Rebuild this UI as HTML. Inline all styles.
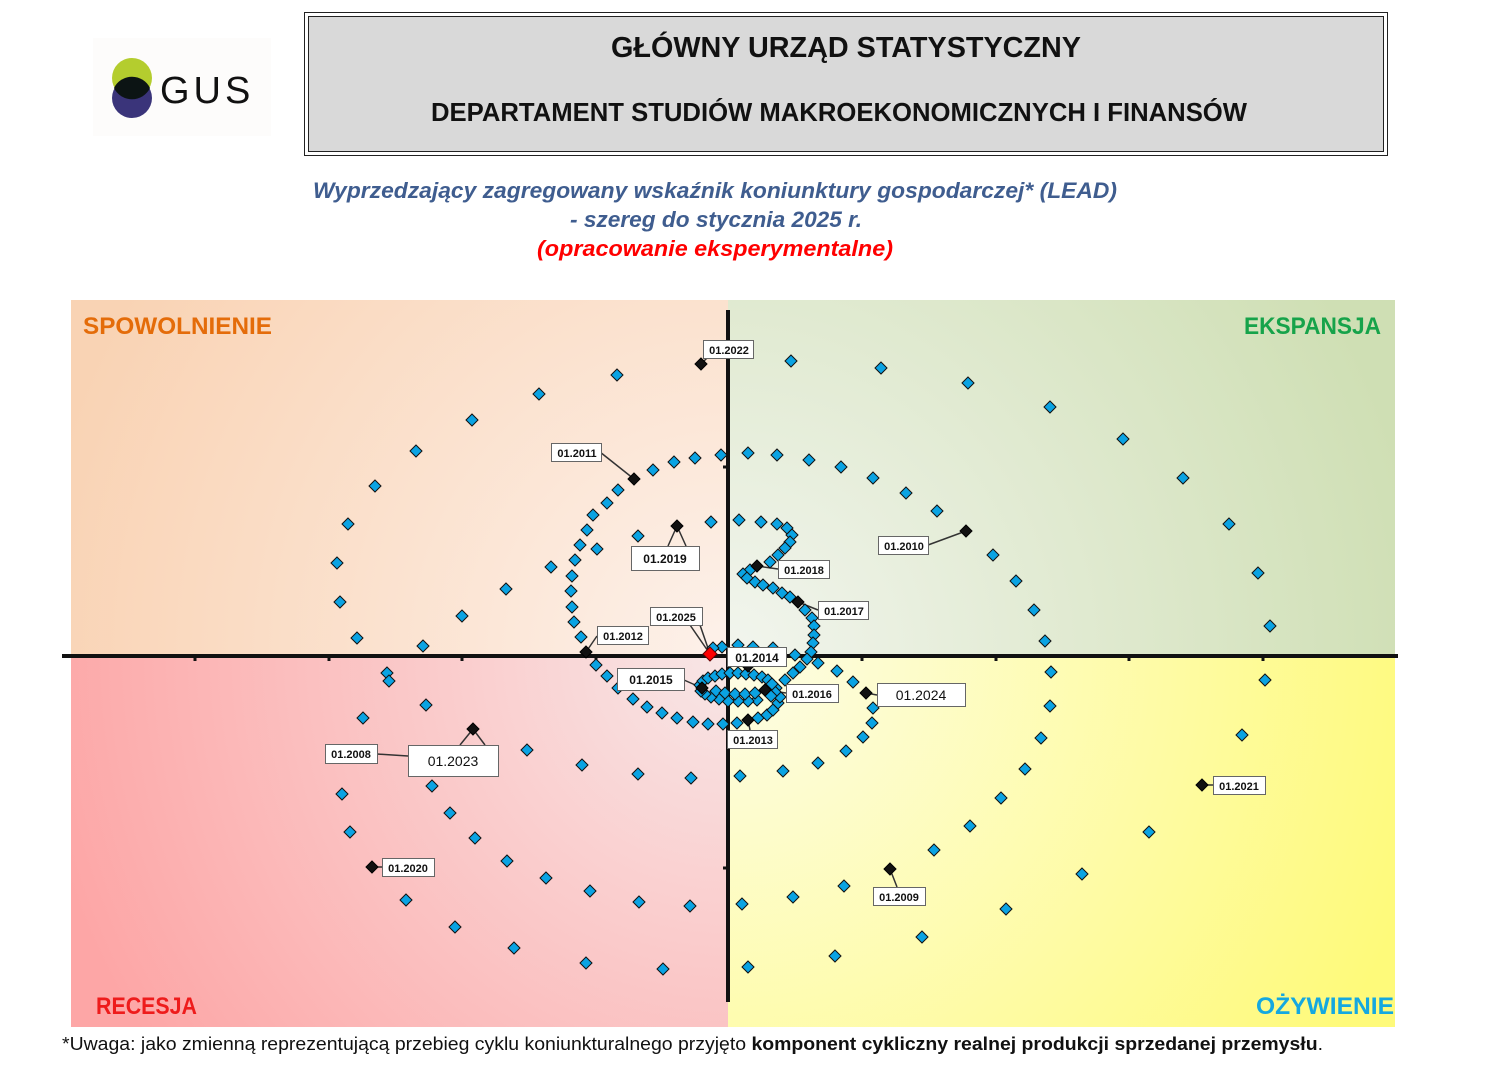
<!DOCTYPE html>
<html><head><meta charset="utf-8"><style>
html,body{margin:0;padding:0;background:#fff;}
svg{display:block;}
text{font-family:"Liberation Sans",sans-serif;}
</style></head><body>
<svg width="1505" height="1069" viewBox="0 0 1505 1069" xmlns="http://www.w3.org/2000/svg">
<defs>
<radialGradient id="gTL" cx="728" cy="656" r="700" gradientUnits="userSpaceOnUse"><stop offset="0" stop-color="#fdf1ea"/><stop offset="1" stop-color="#f9d3b4"/></radialGradient>
<radialGradient id="gTR" cx="728" cy="656" r="700" gradientUnits="userSpaceOnUse"><stop offset="0" stop-color="#f2f5ee"/><stop offset="1" stop-color="#cfdfb4"/></radialGradient>
<radialGradient id="gBL" cx="728" cy="656" r="700" gradientUnits="userSpaceOnUse"><stop offset="0" stop-color="#f8e6e6"/><stop offset="1" stop-color="#fda6a6"/></radialGradient>
<radialGradient id="gBR" cx="728" cy="656" r="720" gradientUnits="userSpaceOnUse"><stop offset="0" stop-color="#fdfde6"/><stop offset="1" stop-color="#fefa7a"/></radialGradient>
<path id="d" d="M0,-6 L6,0 L0,6 L-6,0 Z" fill="#0aa3e3" stroke="#111" stroke-width="1"/>
<path id="k" d="M0,-6 L6,0 L0,6 L-6,0 Z" fill="#111" stroke="#000" stroke-width="1"/>
</defs>

<!-- logo -->
<rect x="93" y="38" width="178" height="98" fill="#fdfcfb"/>
<circle cx="132" cy="78" r="20" fill="#b4cd2e"/>
<circle cx="132" cy="98" r="20" fill="#3a347a"/>
<path d="M114,88 A20,20 0 0 1 150,88 A20,20 0 0 1 114,88 Z" fill="#0c1414"/>
<text x="160" y="103" font-size="38" fill="#111" letter-spacing="4">GUS</text>

<!-- header box -->
<rect x="304.5" y="12.5" width="1083" height="143" fill="#fff" stroke="#222" stroke-width="1"/>
<rect x="308.5" y="16.5" width="1075" height="135" fill="#d9d9d9" stroke="#222" stroke-width="1"/>
<text x="846" y="57" font-size="29" font-weight="bold" text-anchor="middle" textLength="470" lengthAdjust="spacingAndGlyphs" fill="#111">GŁÓWNY URZĄD STATYSTYCZNY</text>
<text x="839" y="121" font-size="26" font-weight="bold" text-anchor="middle" textLength="816" lengthAdjust="spacingAndGlyphs" fill="#111">DEPARTAMENT STUDIÓW MAKROEKONOMICZNYCH I FINANSÓW</text>

<!-- subtitle -->
<g font-style="italic" font-weight="bold" font-size="22" text-anchor="middle">
<text x="715" y="198" fill="#3f5d8f" textLength="804" lengthAdjust="spacingAndGlyphs">Wyprzedzający zagregowany wskaźnik koniunktury gospodarczej* (LEAD)</text>
<text x="716" y="227" fill="#3f5d8f" textLength="292" lengthAdjust="spacingAndGlyphs">- szereg do stycznia 2025 r.</text>
<text x="715" y="256" fill="#ff0000" textLength="356" lengthAdjust="spacingAndGlyphs">(opracowanie eksperymentalne)</text>
</g>

<!-- quadrants -->
<rect x="71" y="300" width="657" height="356" fill="url(#gTL)"/>
<rect x="728" y="300" width="667" height="356" fill="url(#gTR)"/>
<rect x="71" y="656" width="657" height="371" fill="url(#gBL)"/>
<rect x="728" y="656" width="667" height="371" fill="url(#gBR)"/>
<g font-weight="bold" font-size="24">
<text x="83" y="334" fill="#e46c0a" textLength="189" lengthAdjust="spacingAndGlyphs">SPOWOLNIENIE</text>
<text x="1244" y="334" fill="#16a34a" textLength="137" lengthAdjust="spacingAndGlyphs">EKSPANSJA</text>
<text x="96" y="1014" fill="#ee1c1c" textLength="101" lengthAdjust="spacingAndGlyphs">RECESJA</text>
<text x="1256" y="1014" fill="#14a8e0" textLength="138" lengthAdjust="spacingAndGlyphs">OŻYWIENIE</text>
</g>

<!-- axes -->
<line x1="62" y1="656" x2="1398" y2="656" stroke="#111" stroke-width="4"/>
<line x1="728" y1="310" x2="728" y2="1002" stroke="#111" stroke-width="4"/>
<g stroke="#111" stroke-width="3">
<line x1="195" y1="656" x2="195" y2="661"/><line x1="329" y1="656" x2="329" y2="661"/><line x1="462" y1="656" x2="462" y2="661"/><line x1="596" y1="656" x2="596" y2="661"/><line x1="862" y1="656" x2="862" y2="661"/><line x1="996" y1="656" x2="996" y2="661"/><line x1="1129" y1="656" x2="1129" y2="661"/><line x1="1263" y1="656" x2="1263" y2="661"/>
<line x1="723" y1="467" x2="728" y2="467"/><line x1="723" y1="868" x2="728" y2="868"/>
</g>

<!-- label leader lines -->
<g stroke="#333" stroke-width="1.5" fill="none">
<path d="M701,364 L708,357"/><path d="M600,452 L634,479"/><path d="M677,526 L668,546 M677,526 L686,546"/>
<path d="M757,566 L778,569"/><path d="M966,531 L928,545"/><path d="M798,602 L818,610"/>
<path d="M710,654 L700,625 M710,654 L690,625"/><path d="M586,652 L597,636"/><path d="M748,666 L752,660"/>
<path d="M702,688 L684,680"/><path d="M765,690 L786,693"/><path d="M866,693 L877,695"/>
<path d="M748,720 L750,730"/><path d="M377,754 L408,756"/><path d="M473,729 L460,745 M473,729 L485,745"/>
<path d="M1202,785 L1213,785"/><path d="M372,867 L382,867"/><path d="M890,869 L897,887"/>
</g>

<!-- points -->
<g>
<use href="#d" x="617" y="375"/><use href="#d" x="539" y="394"/><use href="#d" x="472" y="420"/><use href="#d" x="416" y="451"/><use href="#d" x="375" y="486"/><use href="#d" x="348" y="524"/><use href="#d" x="337" y="563"/><use href="#d" x="340" y="602"/><use href="#d" x="357" y="638"/><use href="#d" x="387" y="673"/><use href="#d" x="389" y="681"/><use href="#d" x="426" y="705"/><use href="#d" x="363" y="718"/><use href="#d" x="342" y="794"/><use href="#d" x="350" y="832"/><use href="#d" x="406" y="900"/><use href="#d" x="455" y="927"/><use href="#d" x="514" y="948"/><use href="#d" x="586" y="963"/><use href="#d" x="663" y="969"/><use href="#d" x="748" y="967"/><use href="#d" x="835" y="956"/><use href="#d" x="922" y="937"/><use href="#d" x="1006" y="909"/><use href="#d" x="1082" y="874"/><use href="#d" x="1149" y="832"/><use href="#d" x="1242" y="735"/><use href="#d" x="1265" y="680"/><use href="#d" x="1270" y="626"/><use href="#d" x="1258" y="573"/><use href="#d" x="1229" y="524"/><use href="#d" x="1183" y="478"/><use href="#d" x="1123" y="439"/><use href="#d" x="1050" y="407"/><use href="#d" x="968" y="383"/><use href="#d" x="881" y="368"/><use href="#d" x="791" y="361"/>
<use href="#d" x="527" y="750"/><use href="#d" x="582" y="765"/><use href="#d" x="638" y="774"/><use href="#d" x="691" y="778"/><use href="#d" x="740" y="776"/><use href="#d" x="783" y="771"/><use href="#d" x="818" y="763"/><use href="#d" x="846" y="751"/><use href="#d" x="863" y="737"/><use href="#d" x="872" y="723"/><use href="#d" x="873" y="708"/><use href="#d" x="853" y="682"/><use href="#d" x="837" y="671"/><use href="#d" x="818" y="663"/><use href="#d" x="795" y="655"/><use href="#d" x="773" y="648"/><use href="#d" x="753" y="647"/><use href="#d" x="738" y="645"/><use href="#d" x="722" y="647"/><use href="#d" x="713" y="648"/>
<use href="#d" x="432" y="786"/><use href="#d" x="450" y="813"/><use href="#d" x="475" y="838"/><use href="#d" x="507" y="861"/><use href="#d" x="546" y="878"/><use href="#d" x="590" y="891"/><use href="#d" x="639" y="902"/><use href="#d" x="690" y="906"/><use href="#d" x="742" y="904"/><use href="#d" x="793" y="897"/><use href="#d" x="844" y="886"/><use href="#d" x="934" y="850"/><use href="#d" x="970" y="826"/><use href="#d" x="1001" y="798"/><use href="#d" x="1025" y="769"/><use href="#d" x="1041" y="738"/><use href="#d" x="1050" y="706"/><use href="#d" x="1051" y="672"/><use href="#d" x="1045" y="641"/><use href="#d" x="1034" y="610"/><use href="#d" x="1016" y="581"/><use href="#d" x="993" y="555"/><use href="#d" x="937" y="511"/><use href="#d" x="906" y="493"/><use href="#d" x="873" y="478"/><use href="#d" x="841" y="467"/><use href="#d" x="809" y="460"/><use href="#d" x="777" y="455"/><use href="#d" x="748" y="453"/><use href="#d" x="721" y="455"/><use href="#d" x="695" y="458"/><use href="#d" x="674" y="462"/><use href="#d" x="653" y="470"/>
<use href="#d" x="618" y="490"/><use href="#d" x="607" y="503"/><use href="#d" x="593" y="515"/><use href="#d" x="587" y="530"/><use href="#d" x="580" y="545"/><use href="#d" x="575" y="560"/><use href="#d" x="572" y="576"/><use href="#d" x="571" y="591"/><use href="#d" x="572" y="607"/><use href="#d" x="574" y="622"/><use href="#d" x="581" y="637"/><use href="#d" x="596" y="665"/><use href="#d" x="607" y="676"/><use href="#d" x="618" y="688"/><use href="#d" x="633" y="699"/><use href="#d" x="647" y="707"/><use href="#d" x="662" y="713"/><use href="#d" x="677" y="718"/><use href="#d" x="693" y="722"/><use href="#d" x="708" y="724"/><use href="#d" x="723" y="724"/><use href="#d" x="737" y="723"/><use href="#d" x="758" y="718"/><use href="#d" x="767" y="715"/><use href="#d" x="773" y="710"/><use href="#d" x="778" y="703"/><use href="#d" x="780" y="697"/>
<use href="#d" x="638" y="536"/><use href="#d" x="597" y="549"/><use href="#d" x="551" y="567"/><use href="#d" x="506" y="589"/><use href="#d" x="462" y="616"/><use href="#d" x="423" y="646"/><use href="#d" x="711" y="522"/><use href="#d" x="739" y="520"/><use href="#d" x="761" y="522"/><use href="#d" x="777" y="524"/><use href="#d" x="787" y="528"/><use href="#d" x="792" y="535"/><use href="#d" x="790" y="542"/><use href="#d" x="785" y="548"/><use href="#d" x="778" y="555"/><use href="#d" x="770" y="562"/><use href="#d" x="750" y="570"/><use href="#d" x="743" y="574"/><use href="#d" x="747" y="578"/><use href="#d" x="755" y="582"/><use href="#d" x="763" y="585"/><use href="#d" x="773" y="588"/><use href="#d" x="782" y="593"/><use href="#d" x="790" y="597"/><use href="#d" x="805" y="610"/><use href="#d" x="812" y="618"/><use href="#d" x="814" y="626"/><use href="#d" x="814" y="635"/><use href="#d" x="813" y="643"/><use href="#d" x="811" y="652"/><use href="#d" x="807" y="659"/><use href="#d" x="800" y="667"/><use href="#d" x="793" y="673"/><use href="#d" x="785" y="680"/>
<use href="#d" x="776" y="688"/><use href="#d" x="775" y="692"/><use href="#d" x="771" y="696"/><use href="#d" x="757" y="700"/><use href="#d" x="748" y="701"/><use href="#d" x="738" y="701"/><use href="#d" x="728" y="701"/><use href="#d" x="719" y="699"/><use href="#d" x="711" y="697"/><use href="#d" x="705" y="694"/><use href="#d" x="701" y="691"/><use href="#d" x="700" y="685"/><use href="#d" x="703" y="681"/><use href="#d" x="708" y="678"/><use href="#d" x="715" y="676"/><use href="#d" x="722" y="674"/><use href="#d" x="730" y="673"/><use href="#d" x="738" y="673"/><use href="#d" x="746" y="674"/><use href="#d" x="754" y="675"/><use href="#d" x="762" y="677"/><use href="#d" x="768" y="680"/><use href="#d" x="772" y="684"/><use href="#d" x="716" y="691"/><use href="#d" x="725" y="693"/><use href="#d" x="735" y="694"/><use href="#d" x="745" y="694"/><use href="#d" x="755" y="693"/>
</g>
<g>
<use href="#k" x="701" y="364"/><use href="#k" x="634" y="479"/><use href="#k" x="677" y="526"/><use href="#k" x="757" y="566"/><use href="#k" x="966" y="531"/><use href="#k" x="798" y="602"/><use href="#k" x="586" y="652"/><use href="#k" x="748" y="666"/><use href="#k" x="702" y="688"/><use href="#k" x="765" y="690"/><use href="#k" x="866" y="693"/><use href="#k" x="748" y="720"/><use href="#k" x="473" y="729"/><use href="#k" x="1202" y="785"/><use href="#k" x="372" y="867"/><use href="#k" x="890" y="869"/>
<path d="M710,647 L717,654 L710,661 L703,654 Z" fill="#ff0000" stroke="#600" stroke-width="1"/>
</g>

<!-- labels -->
<g fill="#fff" stroke="#666" stroke-width="1">
<rect x="703.5" y="340.5" width="50" height="18"/><rect x="551.5" y="443.5" width="50" height="18"/><rect x="631.5" y="546.5" width="68" height="24"/><rect x="778.5" y="560.5" width="51" height="18"/><rect x="878.5" y="536.5" width="50" height="18"/><rect x="818.5" y="601.5" width="50" height="18"/><rect x="650.5" y="607.5" width="52" height="18"/><rect x="597.5" y="626.5" width="51" height="18"/><rect x="727.5" y="647.5" width="59" height="19"/><rect x="617.5" y="668.5" width="67" height="22"/><rect x="786.5" y="684.5" width="52" height="18"/><rect x="877.5" y="683.5" width="88" height="23"/><rect x="727.5" y="730.5" width="50" height="18"/><rect x="325.5" y="744.5" width="52" height="19"/><rect x="408.5" y="745.5" width="90" height="31"/><rect x="1213.5" y="776.5" width="52" height="18"/><rect x="382.5" y="858.5" width="52" height="18"/><rect x="873.5" y="887.5" width="52" height="18"/>
</g>
<g font-size="11" font-weight="bold" fill="#111" text-anchor="middle">
<text x="729" y="354">01.2022</text><text x="577" y="457">01.2011</text><text x="665" y="563" font-size="12">01.2019</text><text x="804" y="574">01.2018</text><text x="904" y="550">01.2010</text><text x="844" y="615">01.2017</text><text x="676" y="621">01.2025</text><text x="623" y="640">01.2012</text><text x="757" y="662" font-size="12">01.2014</text><text x="651" y="684" font-size="12">01.2015</text><text x="812" y="698">01.2016</text><text x="921" y="700" font-size="14" font-weight="normal">01.2024</text><text x="753" y="744">01.2013</text><text x="351" y="758">01.2008</text><text x="453" y="766" font-size="14" font-weight="normal">01.2023</text><text x="1239" y="790">01.2021</text><text x="408" y="872">01.2020</text><text x="899" y="901">01.2009</text>
</g>

<!-- footnote -->
<text x="62" y="1050" font-size="18" fill="#111" textLength="1261" lengthAdjust="spacingAndGlyphs">*Uwaga: jako zmienną reprezentującą przebieg cyklu koniunkturalnego przyjęto <tspan font-weight="bold">komponent cykliczny realnej produkcji sprzedanej przemysłu</tspan>.</text>
</svg>
</body></html>
